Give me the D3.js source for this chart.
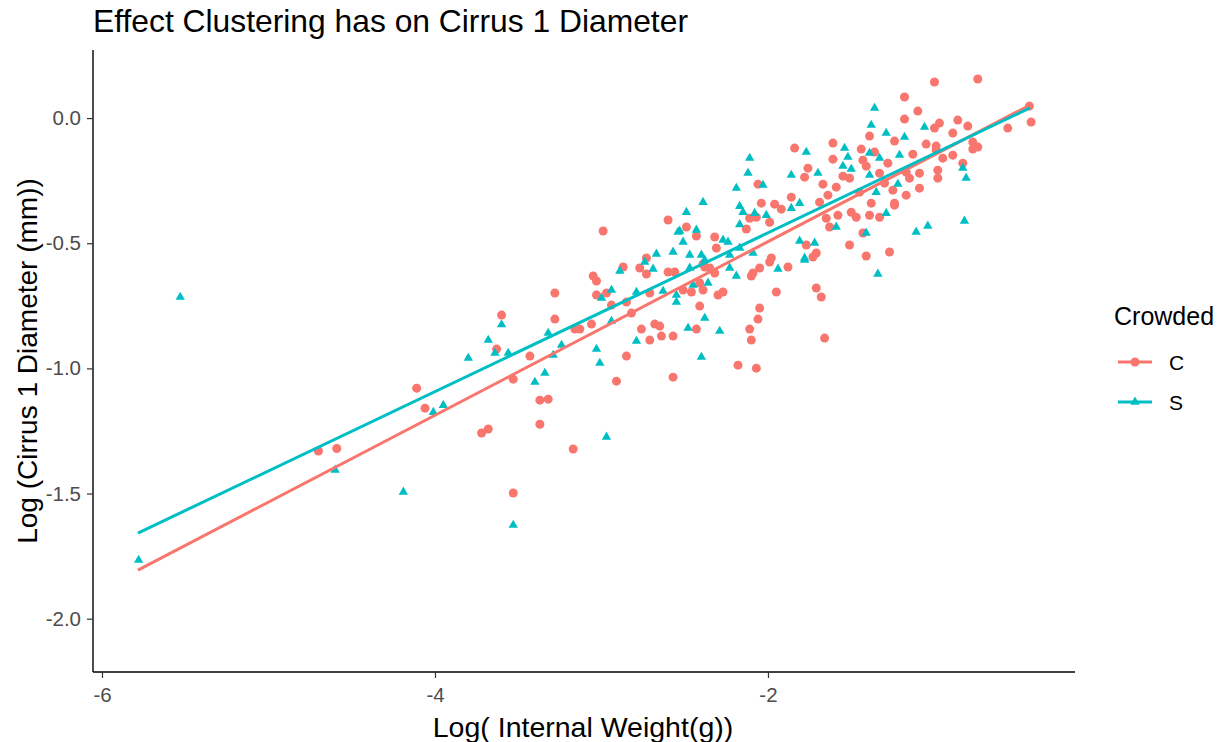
<!DOCTYPE html>
<html><head><meta charset="utf-8">
<script src="https://cdn.jsdelivr.net/npm/d3@7"></script>
<style>body{margin:0;background:#fff;}svg{display:block;font-family:"Liberation Sans",Arial,sans-serif;}</style>
</head><body><svg id="c" width="1225" height="742"></svg>
<script>
const title = "Effect Clustering has on Cirrus 1 Diameter";
const xLabel = "Log( Internal Weight(g))";
const yLabel = "Log (Cirrus 1 Diameter (mm))";
const legendTitle = "Crowded";
const groups = ["C", "S"];
const colors = ["#F8766D", "#00BFC4"];
const xTicks = [-6, -4, -2];
const yTicks = [0.0, -0.5, -1.0, -1.5, -2.0];

const cX = [-4.11,-4.06,-4.70,-4.59,
-3.63,-3.43,-3.16,-3.13,-3.06,-3.28,-2.85,-2.76,-2.71,-2.68,-3.53,-3.37,-3.32,-2.91,-3.72,-3.68,-3.37,-3.17,-3.53,
-2.99,-2.87,-3.05,-3.03,-3.28,-3.03,-2.97,-3.60,-2.73,-2.77,-2.73,-2.71,-2.94,-2.85,-2.82,
-2.60,-2.60,-2.56,-2.65,-2.64,-2.57,-2.57,
-2.38,-2.32,-2.41,-2.39,-2.51,-2.46,-2.30,-2.27,-2.41,-2.43,-2.10,-2.05,-1.99,-1.88,-1.95,-2.05,-2.06,-2.11,-2.10,-2.18,-2.07,-1.71,-1.68,-1.66,
-1.84,-1.61,-1.61,-1.76,-1.78,-2.06,-1.67,-1.86,-1.64,-2.04,-1.96,-1.92,-1.69,-2.11,-2.07,-1.99,-2.49,-2.13,-2.43,-2.32,-2.31,-1.98,-1.77,-1.73,-1.71,-2.35,-2.39,-2.09,
-1.63,-1.65,
-1.00,-0.74,-1.18,-1.10,-1.18,-0.97,-1.00,-0.86,-0.80,-0.56,-0.42,-0.43,-1.39,-1.24,-1.05,-0.99,-0.89,-0.77,-0.74,-0.77,-1.44,-1.36,-1.43,-1.41,-1.28,-1.13,-0.99,-0.95,-0.89,-0.83,-0.98,-0.98,-1.55,-1.51,-1.33,-1.17,-1.15,-1.09,-1.09,-1.25,-1.17,-1.24,-1.38,-1.59,-1.45,-1.30,
-1.50,-1.47,-1.58,-1.24,-1.39,-1.33,-1.43,-1.51,-1.41,-1.27];
const cY = [-1.079,-1.159,-1.33,-1.32,
-0.923,-0.951,-0.843,-0.843,-0.823,-0.803,-0.951,-0.843,-0.887,-0.823,-1.043,-1.127,-1.123,-1.051,-1.258,-1.242,-1.223,-1.322,-1.498,
-0.451,-0.595,-0.631,-0.651,-0.699,-0.707,-0.699,-0.787,-0.559,-0.599,-0.623,-0.699,-0.747,-0.735,-0.779,
-0.407,-0.615,-0.615,-0.831,-0.871,-0.871,-1.035,
-0.595,-0.619,-0.659,-0.687,-0.687,-0.695,-0.707,-0.695,-0.751,-0.843,-0.631,-0.599,-0.575,-0.595,-0.695,-0.759,-0.803,-0.843,-0.887,-0.987,-0.999,-0.679,-0.715,-0.879,
-0.120,-0.100,-0.164,-0.200,-0.236,-0.264,-0.264,-0.316,-0.308,-0.340,-0.344,-0.364,-0.336,-0.400,-0.396,-0.416,-0.435,-0.443,-0.471,-0.475,-0.519,-0.559,-0.507,-0.555,-0.539,-0.599,-0.583,-0.619,
-0.435,-0.400,
0.144,0.156,0.084,0.028,-0.004,-0.020,-0.040,-0.008,-0.032,-0.040,-0.016,0.048,-0.072,-0.092,-0.104,-0.112,-0.060,-0.096,-0.116,-0.124,-0.124,-0.136,-0.168,-0.192,-0.180,-0.144,-0.128,-0.160,-0.148,-0.180,-0.208,-0.240,-0.232,-0.240,-0.220,-0.216,-0.240,-0.220,-0.280,-0.288,-0.308,-0.340,-0.340,-0.276,-0.296,-0.260,
-0.376,-0.396,-0.388,-0.348,-0.388,-0.396,-0.459,-0.507,-0.551,-0.535];

const sX = [-5.53,-5.78,-4.60,-4.19,-4.01,-3.95,-3.80,
-3.60,-3.68,-3.64,-3.56,-3.32,-3.24,-3.29,-3.03,-3.01,-2.79,-3.40,-3.34,-2.97,-3.53,
-2.89,-2.94,-3.00,-2.74,-2.67,-2.69,-2.79,
-2.54,-2.57,-2.63,-2.55,-2.94,
-2.47,-2.36,-2.45,-2.55,-2.38,-2.48,-2.29,-2.40,-2.23,-2.19,-1.94,-1.78,
-1.77,-2.11,-2.12,-1.86,-1.70,-2.03,-2.19,-2.39,-1.81,-1.86,-2.17,-2.15,-2.49,-2.08,-2.01,-2.17,-2.53,-2.43,-2.51,-2.24,-2.27,-2.17,-2.09,-1.78,-1.72,-1.81,-2.47,-2.40,-2.38,-2.23,
-1.36,-1.38,-1.06,-1.29,-1.18,-1.54,-1.52,-1.39,-1.33,-1.21,-0.83,-0.81,-1.55,-1.50,-1.39,-1.22,-1.35,
-1.29,-1.59,-1.41,-1.11,-1.04,-0.82,-1.34];
const sY = [-0.715,-1.766,-1.406,-1.494,-1.175,-1.147,-0.959,
-0.825,-0.887,-0.939,-0.939,-0.859,-0.907,-0.947,-0.923,-0.979,-0.891,-1.055,-1.019,-1.274,-1.626,
-0.611,-0.687,-0.719,-0.575,-0.543,-0.603,-0.695,
-0.455,-0.535,-0.691,-0.707,-0.811,
-0.599,-0.659,-0.667,-0.735,-0.799,-0.839,-0.851,-0.955,-0.599,-0.631,-0.603,-0.567,
-0.136,-0.160,-0.220,-0.228,-0.220,-0.268,-0.280,-0.336,-0.340,-0.360,-0.352,-0.376,-0.376,-0.380,-0.388,-0.425,-0.451,-0.447,-0.495,-0.495,-0.487,-0.519,-0.539,-0.559,-0.499,-0.491,-0.547,-0.547,-0.567,-0.547,
0.040,-0.028,-0.036,-0.060,-0.076,-0.120,-0.156,-0.140,-0.160,-0.148,-0.200,-0.240,-0.192,-0.204,-0.228,-0.264,-0.296,
-0.380,-0.435,-0.459,-0.455,-0.431,-0.411,-0.623];

// fitted regression lines: [intercept, slope], x range
const fitIntercept = [0.200, 0.1755];
const fitSlope = [0.3468, 0.317];
const fitXMin = [-5.784, -5.784];
const fitXMax = [-0.438, -0.426];

const svg = d3.select("#c");
const L = 93, R = 1075, T = 50, B = 672;
const x = d3.scaleLinear().domain([-6.054, -0.156]).range([L, R]);
const y = d3.scaleLinear().domain([-2.213, 0.272]).range([B, T]);

// title
svg.append("text").attr("x", 93).attr("y", 32).attr("font-size", 31.8).attr("fill", "#000").text(title);

// points
const g = svg.append("g");
const cData = cX.map((v, i) => [v, cY[i]]);
const sData = sX.map((v, i) => [v, sY[i]]);
g.selectAll("circle.c").data(cData).join("circle").attr("class", "c")
  .attr("cx", d => x(d[0])).attr("cy", d => y(d[1])).attr("r", 4.5).attr("fill", colors[0]);
const tri = d3.symbol().type(d3.symbolTriangle).size(38);
g.selectAll("path.s").data(sData).join("path").attr("class", "s")
  .attr("d", tri).attr("transform", d => `translate(${x(d[0])},${y(d[1])})`).attr("fill", colors[1]);

// lines
groups.forEach((gr, i) => {
  const pts = [fitXMin[i], fitXMax[i]].map(xv => [xv, fitIntercept[i] + fitSlope[i] * xv]);
  svg.append("line").attr("x1", x(pts[0][0])).attr("y1", y(pts[0][1]))
    .attr("x2", x(pts[1][0])).attr("y2", y(pts[1][1]))
    .attr("stroke", colors[i]).attr("stroke-width", 3);
});

// axes
const xa = svg.append("g").attr("transform", `translate(0,${B})`)
  .call(d3.axisBottom(x).tickValues(xTicks).tickSize(6).tickPadding(9).tickFormat(d => String(d)));
const ya = svg.append("g").attr("transform", `translate(${L},0)`)
  .call(d3.axisLeft(y).tickValues(yTicks).tickSize(6).tickPadding(6).tickFormat(d => d.toFixed(1)));
[xa, ya].forEach(a => {
  a.select(".domain").attr("stroke", "#000").attr("stroke-width", 1.4).attr("d",
    a === xa ? `M${L},0H${R}` : `M0,${T}V${B}`);
  a.selectAll(".tick line").attr("stroke", "#333").attr("stroke-width", 1.2);
  a.selectAll(".tick text").attr("fill", "#4d4d4d").attr("font-size", 20.5)
    .attr("font-family", "Liberation Sans, Arial, sans-serif");
});

svg.append("text").attr("x", (L + R) / 2 - 1).attr("y", 737).attr("text-anchor", "middle")
  .attr("font-size", 28.5).text(xLabel);
svg.append("text").attr("transform", `translate(37,${(T + B) / 2}) rotate(-90)`)
  .attr("text-anchor", "middle").attr("font-size", 28).text(yLabel);

// legend
svg.append("text").attr("x", 1114).attr("y", 325).attr("font-size", 25).text(legendTitle);
groups.forEach((gr, i) => {
  const cy = 362 + i * 40;
  svg.append("line").attr("x1", 1118).attr("x2", 1152).attr("y1", cy).attr("y2", cy)
    .attr("stroke", colors[i]).attr("stroke-width", 3);
  if (i === 0) svg.append("circle").attr("cx", 1135).attr("cy", cy).attr("r", 4.5).attr("fill", colors[i]);
  else svg.append("path").attr("d", tri).attr("transform", `translate(1135,${cy})`).attr("fill", colors[i]);
  svg.append("text").attr("x", 1169).attr("y", cy + 8).attr("font-size", 21).text(gr);
});
</script></body></html>
